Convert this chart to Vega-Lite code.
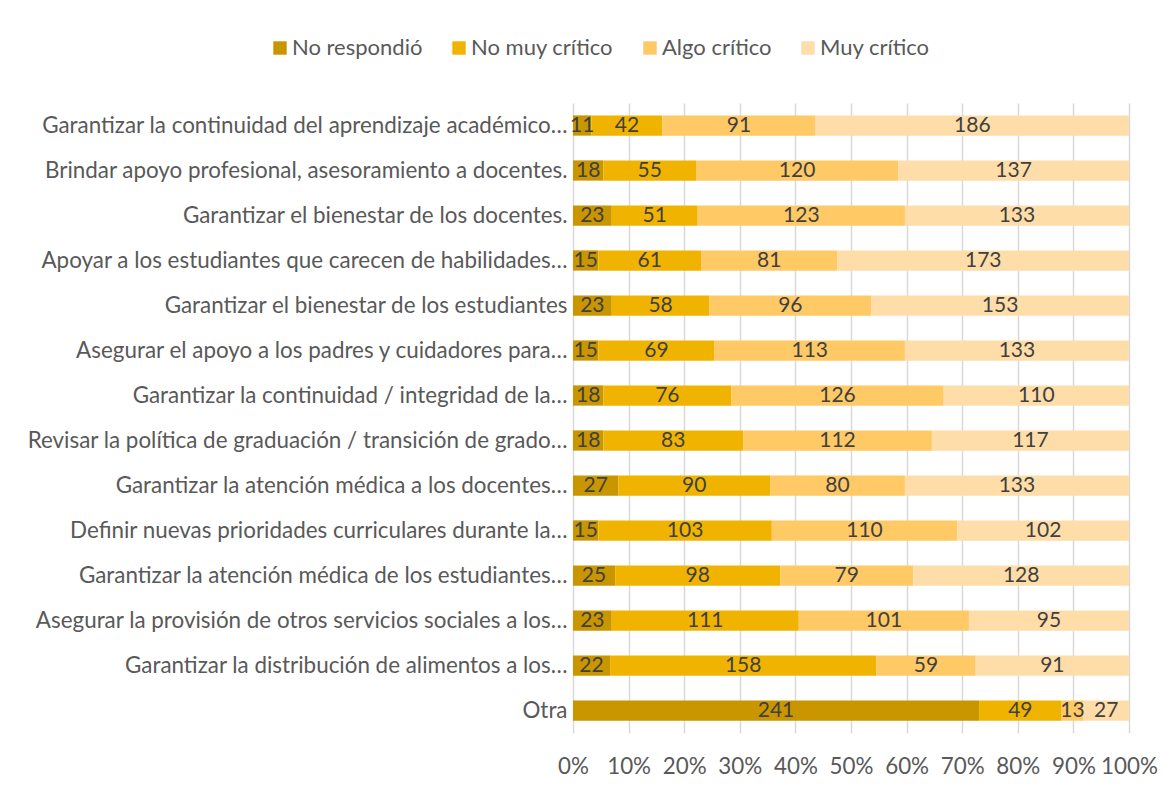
{
  "$schema": "https://vega.github.io/schema/vega-lite/v6.json",
  "autosize": {"type": "none"},
  "padding": {"left": 573, "top": 103, "right": 41, "bottom": 55},
  "width": 556,
  "height": 630,
  "background": "white",
  "config": {
    "font": "Lato",
    "view": {"stroke": null},
    "axis": {"labelFont": "Lato", "labelColor": "#595959", "labelFontSize": 22.4, "labelLimit": 700}
  },
  "data": {
    "values": [
      {"tarea": "Garantizar la continuidad del aprendizaje académico…", "serie": "No respondió", "n": 11},
      {"tarea": "Garantizar la continuidad del aprendizaje académico…", "serie": "No muy crítico", "n": 42},
      {"tarea": "Garantizar la continuidad del aprendizaje académico…", "serie": "Algo crítico", "n": 91},
      {"tarea": "Garantizar la continuidad del aprendizaje académico…", "serie": "Muy crítico", "n": 186},
      {"tarea": "Brindar apoyo profesional, asesoramiento a docentes.\u2002\u2005", "serie": "No respondió", "n": 18},
      {"tarea": "Brindar apoyo profesional, asesoramiento a docentes.\u2002\u2005", "serie": "No muy crítico", "n": 55},
      {"tarea": "Brindar apoyo profesional, asesoramiento a docentes.\u2002\u2005", "serie": "Algo crítico", "n": 120},
      {"tarea": "Brindar apoyo profesional, asesoramiento a docentes.\u2002\u2005", "serie": "Muy crítico", "n": 137},
      {"tarea": "Garantizar el bienestar de los docentes.\u2002\u2005", "serie": "No respondió", "n": 23},
      {"tarea": "Garantizar el bienestar de los docentes.\u2002\u2005", "serie": "No muy crítico", "n": 51},
      {"tarea": "Garantizar el bienestar de los docentes.\u2002\u2005", "serie": "Algo crítico", "n": 123},
      {"tarea": "Garantizar el bienestar de los docentes.\u2002\u2005", "serie": "Muy crítico", "n": 133},
      {"tarea": "Apoyar a los estudiantes que carecen de habilidades…", "serie": "No respondió", "n": 15},
      {"tarea": "Apoyar a los estudiantes que carecen de habilidades…", "serie": "No muy crítico", "n": 61},
      {"tarea": "Apoyar a los estudiantes que carecen de habilidades…", "serie": "Algo crítico", "n": 81},
      {"tarea": "Apoyar a los estudiantes que carecen de habilidades…", "serie": "Muy crítico", "n": 173},
      {"tarea": "Garantizar el bienestar de los estudiantes\u2002\u2005", "serie": "No respondió", "n": 23},
      {"tarea": "Garantizar el bienestar de los estudiantes\u2002\u2005", "serie": "No muy crítico", "n": 58},
      {"tarea": "Garantizar el bienestar de los estudiantes\u2002\u2005", "serie": "Algo crítico", "n": 96},
      {"tarea": "Garantizar el bienestar de los estudiantes\u2002\u2005", "serie": "Muy crítico", "n": 153},
      {"tarea": "Asegurar el apoyo a los padres y cuidadores para…", "serie": "No respondió", "n": 15},
      {"tarea": "Asegurar el apoyo a los padres y cuidadores para…", "serie": "No muy crítico", "n": 69},
      {"tarea": "Asegurar el apoyo a los padres y cuidadores para…", "serie": "Algo crítico", "n": 113},
      {"tarea": "Asegurar el apoyo a los padres y cuidadores para…", "serie": "Muy crítico", "n": 133},
      {"tarea": "Garantizar la continuidad / integridad de la…", "serie": "No respondió", "n": 18},
      {"tarea": "Garantizar la continuidad / integridad de la…", "serie": "No muy crítico", "n": 76},
      {"tarea": "Garantizar la continuidad / integridad de la…", "serie": "Algo crítico", "n": 126},
      {"tarea": "Garantizar la continuidad / integridad de la…", "serie": "Muy crítico", "n": 110},
      {"tarea": "Revisar la política de graduación / transición de grado…", "serie": "No respondió", "n": 18},
      {"tarea": "Revisar la política de graduación / transición de grado…", "serie": "No muy crítico", "n": 83},
      {"tarea": "Revisar la política de graduación / transición de grado…", "serie": "Algo crítico", "n": 112},
      {"tarea": "Revisar la política de graduación / transición de grado…", "serie": "Muy crítico", "n": 117},
      {"tarea": "Garantizar la atención médica a los docentes…", "serie": "No respondió", "n": 27},
      {"tarea": "Garantizar la atención médica a los docentes…", "serie": "No muy crítico", "n": 90},
      {"tarea": "Garantizar la atención médica a los docentes…", "serie": "Algo crítico", "n": 80},
      {"tarea": "Garantizar la atención médica a los docentes…", "serie": "Muy crítico", "n": 133},
      {"tarea": "Definir nuevas prioridades curriculares durante la…", "serie": "No respondió", "n": 15},
      {"tarea": "Definir nuevas prioridades curriculares durante la…", "serie": "No muy crítico", "n": 103},
      {"tarea": "Definir nuevas prioridades curriculares durante la…", "serie": "Algo crítico", "n": 110},
      {"tarea": "Definir nuevas prioridades curriculares durante la…", "serie": "Muy crítico", "n": 102},
      {"tarea": "Garantizar la atención médica de los estudiantes…", "serie": "No respondió", "n": 25},
      {"tarea": "Garantizar la atención médica de los estudiantes…", "serie": "No muy crítico", "n": 98},
      {"tarea": "Garantizar la atención médica de los estudiantes…", "serie": "Algo crítico", "n": 79},
      {"tarea": "Garantizar la atención médica de los estudiantes…", "serie": "Muy crítico", "n": 128},
      {"tarea": "Asegurar la provisión de otros servicios sociales a los…", "serie": "No respondió", "n": 23},
      {"tarea": "Asegurar la provisión de otros servicios sociales a los…", "serie": "No muy crítico", "n": 111},
      {"tarea": "Asegurar la provisión de otros servicios sociales a los…", "serie": "Algo crítico", "n": 101},
      {"tarea": "Asegurar la provisión de otros servicios sociales a los…", "serie": "Muy crítico", "n": 95},
      {"tarea": "Garantizar la distribución de alimentos a los…", "serie": "No respondió", "n": 22},
      {"tarea": "Garantizar la distribución de alimentos a los…", "serie": "No muy crítico", "n": 158},
      {"tarea": "Garantizar la distribución de alimentos a los…", "serie": "Algo crítico", "n": 59},
      {"tarea": "Garantizar la distribución de alimentos a los…", "serie": "Muy crítico", "n": 91},
      {"tarea": "Otra", "serie": "No respondió", "n": 241},
      {"tarea": "Otra", "serie": "No muy crítico", "n": 49},
      {"tarea": "Otra", "serie": "Algo crítico", "n": 13},
      {"tarea": "Otra", "serie": "Muy crítico", "n": 27}
    ]
  },
  "transform": [
    {"calculate": "indexof(['No respondió','No muy crítico','Algo crítico','Muy crítico'], datum.serie)", "as": "orden"}
  ],
  "encoding": {
    "y": {
      "field": "tarea",
      "type": "nominal",
      "sort": null,
      "title": null,
      "scale": {"paddingInner": 0.55, "paddingOuter": 0.275},
      "axis": {"ticks": false, "domain": false, "labelPadding": 6, "grid": false}
    },
    "order": {"field": "orden", "type": "quantitative"}
  },
  "layer": [
    {
      "mark": {"type": "bar"},
      "encoding": {
        "x": {
          "field": "n",
          "type": "quantitative",
          "stack": "normalize",
          "title": null,
          "scale": {"domain": [0, 1], "nice": false},
          "axis": {
            "format": ".0%",
            "values": [0, 0.1, 0.2, 0.3, 0.4, 0.5, 0.6, 0.7, 0.8, 0.9, 1],
            "ticks": false,
            "domain": false,
            "grid": true,
            "gridColor": "#d9d9d9",
            "gridWidth": 1.5,
            "labelPadding": 22,
            "labelFlush": false
          }
        },
        "color": {
          "field": "serie",
          "type": "nominal",
          "sort": ["No respondió", "No muy crítico", "Algo crítico", "Muy crítico"],
          "scale": {
            "domain": ["No respondió", "No muy crítico", "Algo crítico", "Muy crítico"],
            "range": ["#C99600", "#F0B400", "#FFC966", "#FFDDA8"]
          },
          "legend": {
            "orient": "none",
            "direction": "horizontal",
            "legendX": -304,
            "legendY": -66,
            "title": null,
            "symbolType": "square",
            "symbolSize": 180,
            "symbolStrokeWidth": 0,
            "labelFont": "Lato",
            "labelFontSize": 22,
            "labelColor": "#595959",
            "columnPadding": 25,
            "labelOffset": 1
          }
        }
      }
    },
    {
      "mark": {"type": "text", "fontSize": 21, "color": "#404040", "font": "Lato"},
      "encoding": {
        "x": {"field": "n", "type": "quantitative", "stack": "normalize", "bandPosition": 0.5},
        "text": {"field": "n", "type": "quantitative"}
      }
    }
  ]
}
